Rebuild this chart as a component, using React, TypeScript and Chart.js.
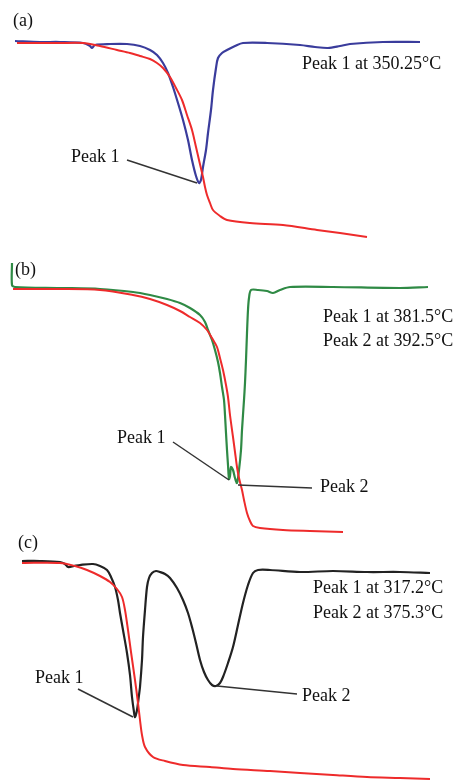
import React, { useEffect, useRef } from "react";
import { Chart, registerables } from "chart.js";

Chart.register(...registerables);

type P = [number, number];

// ---- Panel (a) ----
const aDtg: P[] = [
  [15, -41], [40, -42], [60, -42], [83, -43], [90, -46], [92, -48], [95, -45], [110, -44], [127, -44],
  [140, -46], [150, -50], [157, -55], [163, -63], [168, -73], [173, -87], [178, -103], [183, -120],
  [188, -140], [192, -160], [196, -176], [199, -183], [201, -180], [203, -167], [206, -150], [208, -133],
  [211, -110], [213, -90], [216, -68], [218, -58], [222, -53], [227, -50], [235, -46], [243, -43],
  [267, -43], [300, -45], [315, -47], [328, -48], [340, -46], [350, -44], [383, -42], [420, -42],
];
const aTg: P[] = [
  [17, -43], [60, -43], [83, -43], [100, -46], [117, -50], [130, -53], [140, -56], [150, -59], [157, -63],
  [163, -68], [170, -77], [176, -88], [182, -100], [187, -115], [192, -130], [196, -147], [199, -160],
  [203, -177], [205, -187], [207, -195], [210, -203], [213, -210], [220, -216], [227, -220], [250, -223],
  [283, -225], [317, -230], [340, -233], [367, -237],
];

// ---- Panel (b) ----
const bDtg: P[] = [
  [12, -13], [12, -35], [15, -37], [60, -38], [100, -39], [133, -42], [150, -45], [167, -49], [180, -53],
  [190, -58], [200, -65], [205, -72], [208, -80], [212, -90], [215, -100], [218, -112], [220, -123],
  [222, -137], [224, -150], [225, -165], [226, -183], [227, -200], [228, -215], [229, -229], [230, -226],
  [231, -217], [233, -220], [235, -228], [237, -233], [239, -220], [241, -200], [242, -180], [244, -150],
  [245, -133], [246, -110], [247, -83], [248, -60], [249, -48], [251, -40], [258, -40], [267, -41],
  [273, -43], [280, -40], [290, -37], [333, -37], [400, -38], [428, -37],
];
const bTg: P[] = [
  [13, -39], [60, -39], [100, -40], [133, -45], [150, -49], [167, -55], [180, -61], [190, -67], [200, -73],
  [207, -80], [212, -88], [217, -97], [220, -108], [223, -120], [226, -135], [228, -147], [230, -165],
  [233, -187], [235, -202], [237, -217], [239, -228], [242, -240], [244, -250], [247, -263], [250, -271],
  [253, -276], [260, -278], [283, -280], [310, -281], [343, -282],
];

// ---- Panel (c) ----
const cDtg: P[] = [
  [22, -31], [40, -31], [60, -32], [65, -34], [68, -37], [74, -36], [80, -35], [93, -34], [100, -36],
  [107, -40], [111, -47], [115, -57], [118, -70], [120, -83], [123, -100], [127, -123], [130, -145],
  [132, -167], [134, -182], [135, -187], [137, -180], [139, -165], [140, -157], [142, -130], [143, -107],
  [145, -80], [147, -57], [149, -48], [152, -43], [156, -41], [160, -42], [165, -44], [170, -48],
  [177, -58], [183, -70], [188, -83], [192, -97], [196, -113], [200, -130], [204, -142], [208, -150],
  [212, -155], [216, -156], [220, -153], [223, -147], [228, -133], [233, -117], [238, -95], [243, -73],
  [248, -55], [253, -43], [258, -40], [270, -40], [300, -42], [333, -41], [367, -42], [400, -42], [430, -43],
];
const cTg: P[] = [
  [22, -33], [60, -33], [75, -36], [87, -40], [100, -46], [110, -52], [117, -59], [122, -67], [125, -80],
  [128, -100], [131, -122], [135, -150], [138, -173], [140, -190], [142, -205], [145, -217], [153, -227],
  [165, -231], [183, -235], [210, -237], [233, -239], [270, -241], [300, -243], [333, -245], [367, -247],
  [400, -248], [430, -249],
];

// ---- Text ----
const aInfo = ["Peak 1 at 350.25°C"];
const bInfo = ["Peak 1 at 381.5°C", "Peak 2 at 392.5°C"];
const cInfo = ["Peak 1 at 317.2°C", "Peak 2 at 375.3°C"];

interface PeakNote { text: string; at: P; from: P; to: P }
interface Panel {
  top: number;
  height: number;
  tg: P[];
  dtg: P[];
  dtgColor: string;
  tag: string;
  tagAt: P;
  info: string[];
  infoAt: P;
  infoGap: number;
  peaks: PeakNote[];
}

const panels: Panel[] = [
  {
    top: 0, height: 250, tg: aTg, dtg: aDtg, dtgColor: "#3a3c9c", tag: "(a)", tagAt: [13, -21],
    info: aInfo, infoAt: [302, -64], infoGap: 24,
    peaks: [{ text: "Peak 1", at: [71, -157], from: [127, -160], to: [197, -183] }],
  },
  {
    top: 250, height: 290, tg: bTg, dtg: bDtg, dtgColor: "#2f8a45", tag: "(b)", tagAt: [15, -20],
    info: bInfo, infoAt: [323, -67], infoGap: 24,
    peaks: [
      { text: "Peak 1", at: [117, -188], from: [173, -192], to: [229, -230] },
      { text: "Peak 2", at: [320, -237], from: [238, -235], to: [312, -238] },
    ],
  },
  {
    top: 530, height: 252, tg: cTg, dtg: cDtg, dtgColor: "#222222", tag: "(c)", tagAt: [18, -13],
    info: cInfo, infoAt: [313, -58], infoGap: 25,
    peaks: [
      { text: "Peak 1", at: [35, -148], from: [78, -159], to: [133, -187] },
      { text: "Peak 2", at: [302, -166], from: [217, -156], to: [297, -164] },
    ],
  },
];

const FONT = '18px "Liberation Serif", "Times New Roman", serif';

function PanelChart({ panel }: { panel: Panel }) {
  const ref = useRef<HTMLCanvasElement>(null);
  useEffect(() => {
    if (!ref.current) return;
    const notes = {
      id: "notes",
      afterDatasetsDraw(chart: any) {
        const { ctx } = chart;
        const sx = chart.scales.x;
        const sy = chart.scales.y;
        const px = (p: P): [number, number] => [sx.getPixelForValue(p[0]), sy.getPixelForValue(p[1])];
        ctx.save();
        ctx.font = FONT;
        ctx.fillStyle = "#111";
        ctx.textBaseline = "middle";
        ctx.textAlign = "left";
        const [tx, ty] = px(panel.tagAt);
        ctx.fillText(panel.tag, tx, ty);
        panel.info.forEach((t, i) => {
          const [ix, iy] = px([panel.infoAt[0], panel.infoAt[1] - i * panel.infoGap]);
          ctx.fillText(t, ix, iy);
        });
        ctx.strokeStyle = "#333";
        ctx.lineWidth = 1.5;
        panel.peaks.forEach((pk) => {
          const [lx, ly] = px(pk.at);
          ctx.fillText(pk.text, lx, ly);
          const [x1, y1] = px(pk.from);
          const [x2, y2] = px(pk.to);
          ctx.beginPath();
          ctx.moveTo(x1, y1);
          ctx.lineTo(x2, y2);
          ctx.stroke();
        });
        ctx.restore();
      },
    };
    const chart = new Chart(ref.current, {
      type: "line",
      data: {
        datasets: [
          {
            data: panel.tg.map(([x, y]) => ({ x, y })),
            borderColor: "#ee2b2b",
            borderWidth: 2,
            pointRadius: 0,
            tension: 0.3,
            fill: false,
            clip: false as any,
          },
          {
            data: panel.dtg.map(([x, y]) => ({ x, y })),
            borderColor: panel.dtgColor,
            borderWidth: 2.2,
            pointRadius: 0,
            tension: 0.3,
            fill: false,
            clip: false as any,
          },
        ],
      },
      options: {
        responsive: false,
        animation: false,
        devicePixelRatio: 1,
        events: [],
        layout: { padding: 0 },
        plugins: { legend: { display: false }, tooltip: { enabled: false } },
        scales: {
          x: { type: "linear", min: 0, max: 459, display: false },
          y: { type: "linear", min: -panel.height, max: 0, display: false },
        },
      },
      plugins: [notes],
    });
    return () => chart.destroy();
  }, [panel]);
  return (
    <canvas
      ref={ref}
      width={459}
      height={panel.height}
      style={{ position: "absolute", left: 0, top: panel.top, width: 459, height: panel.height }}
    />
  );
}

export default function App() {
  return (
    <div style={{ position: "absolute", left: 0, top: 0, width: 459, height: 782, background: "#fff" }}>
      {panels.map((p) => (
        <PanelChart key={p.tag} panel={p} />
      ))}
    </div>
  );
}
